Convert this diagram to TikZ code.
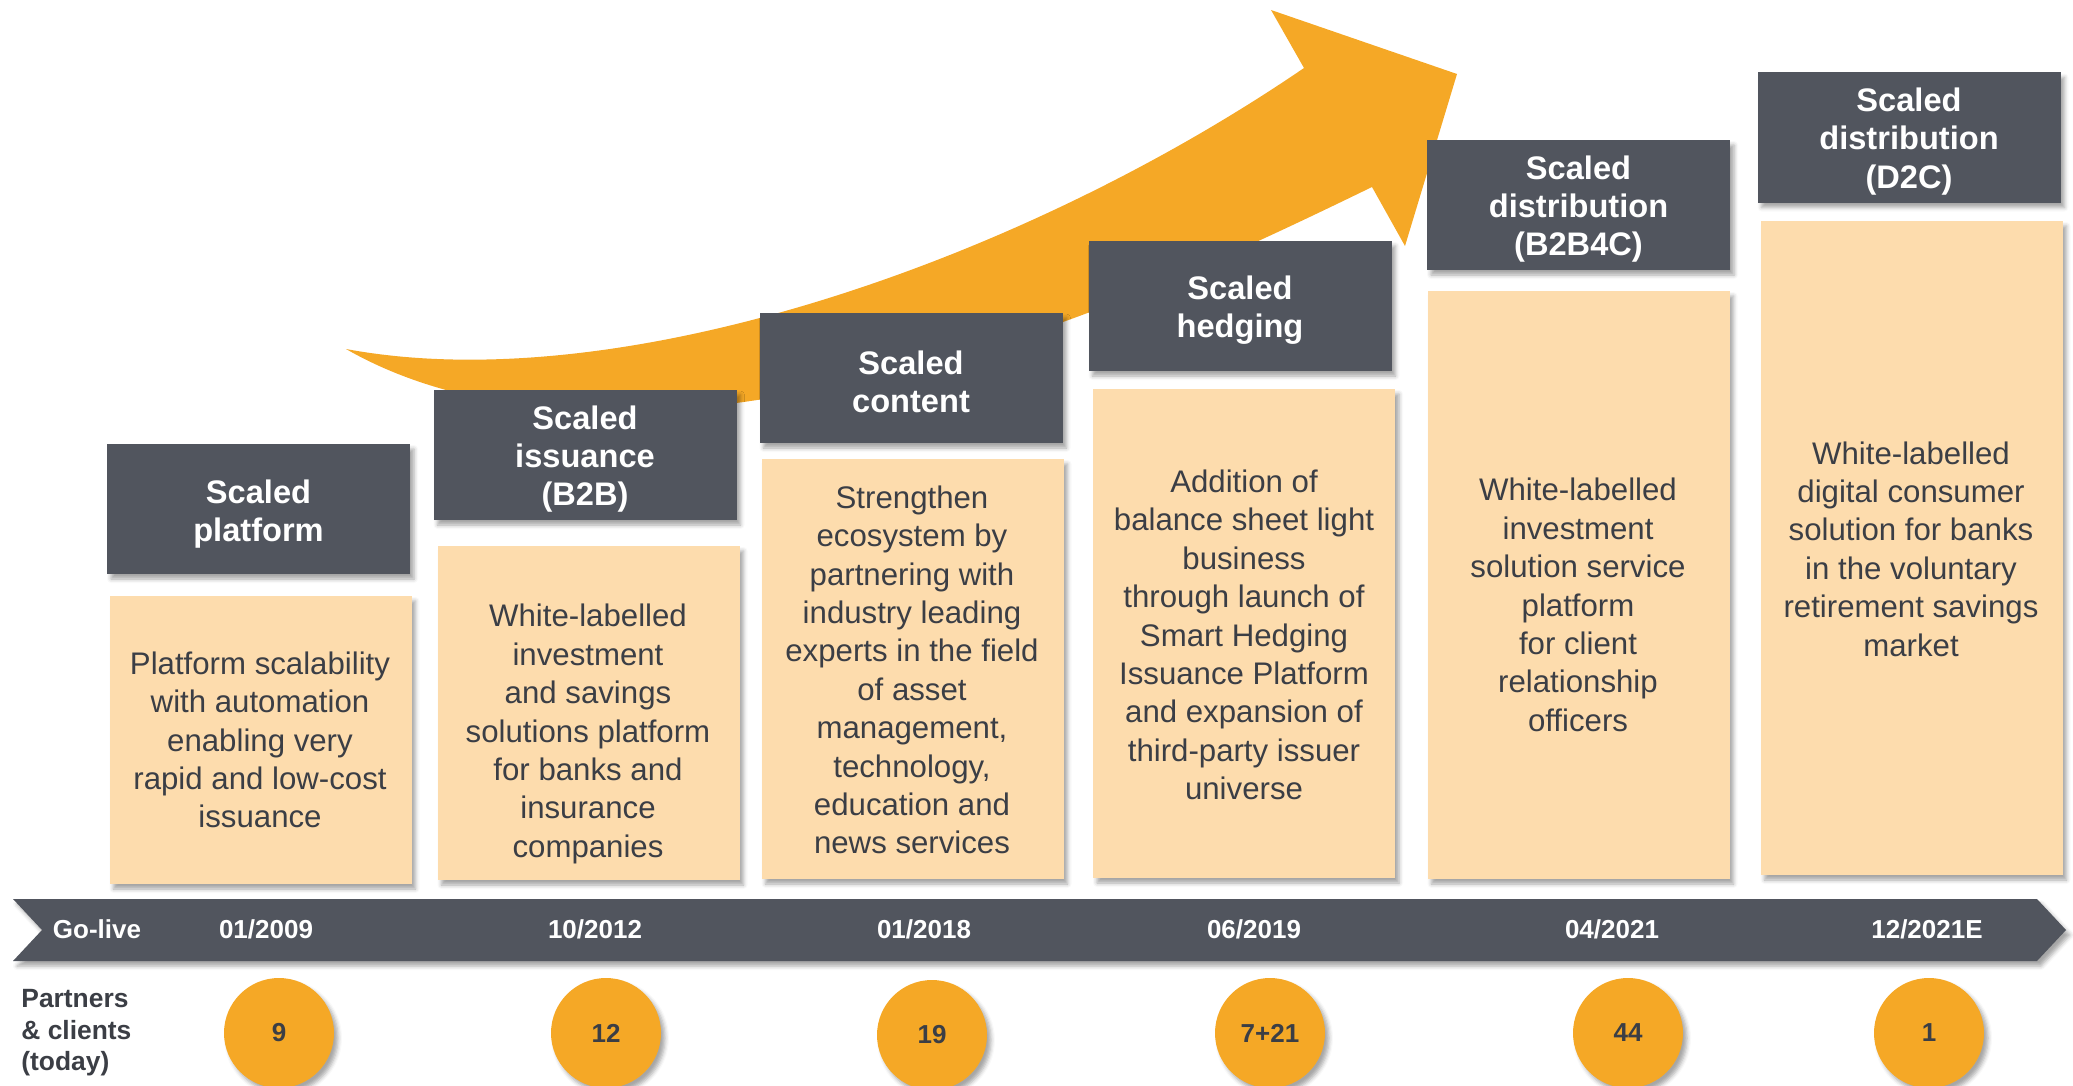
\documentclass[tikz,border=0pt]{standalone}
\usepackage{fontspec}
\setmainfont{Liberation Sans}
\usetikzlibrary{shadows,shadows.blur}
\definecolor{dkgray}{HTML}{51555E}
\definecolor{peach}{HTML}{FDDCAD}
\definecolor{orng}{HTML}{F5A826}
\definecolor{txt}{HTML}{3B3E45}
\begin{document}
\begin{tikzpicture}[x=0.5pt,y=-0.5pt,
 shd/.style={blur shadow={shadow xshift=2pt,shadow yshift=-2.5pt,shadow blur radius=2pt,shadow opacity=35}},
 header/.style={shd, fill=dkgray, minimum width=151.5pt, minimum height=65pt, inner sep=0pt},
 htext/.style={text=white, font=\fontsize{16.3}{19.2}\selectfont\bfseries, align=center, inner sep=0pt},
 body/.style={shd, fill=peach, minimum width=151pt, inner sep=0pt},
 bodytext/.style={text=txt, font=\fontsize{15.6}{19.2}\selectfont, align=center, inner sep=0pt},
 date/.style={text=white, font=\fontsize{13}{15}\selectfont\bfseries, anchor=base, inner sep=0pt},
 count/.style={circle, shd, fill=orng, minimum size=55pt, inner sep=0pt, text=txt, font=\fontsize{13}{15}\selectfont\bfseries},
]
\useasboundingbox (0,0) rectangle (2073,1086);

% big curved arrow
\fill[orng] (346,349) .. controls (620,400) and (1020,262) .. (1304,68)
  -- (1271,10) -- (1457,74) -- (1405,246) -- (1372,187)
  .. controls (1300,222) and (1180,280) .. (1063,322)
  .. controls (900,380) and (720,415) .. (600,412)
  .. controls (480,408) and (400,380) .. (346,349) -- cycle;

% headers
\node[header] (h1) at (258.5,509) {};
\node[header] (h2) at (585,455) {};
\node[header] (h3) at (911,378) {};
\node[header] (h4) at (1240,306) {};
\node[header] (h5) at (1578.5,205) {};
\node[header] (h6) at (1909,137.5) {};
\node[htext] (ht1) at ([yshift=-2.5pt]h1.center) {Scaled\\platform};
\node[htext] (ht2) at ([yshift=-2pt]h2.center) {Scaled\\issuance\\(B2B)};
\node[htext] (ht3) at ([yshift=-2pt]h3.center) {Scaled\\content};
\node[htext] (ht4) at ([yshift=-2pt]h4.center) {Scaled\\hedging};
\node[htext] (ht5) at ([yshift=-2pt]h5.center) {Scaled\\distribution\\(B2B4C)};
\node[htext] (ht6) at ([yshift=-2pt]h6.center) {Scaled\\distribution\\(D2C)};

% bodies
\node[body, minimum height=144pt] (b1) at (260.5,740) {};
\node[body, minimum height=167pt] (b2) at (588.5,713) {};
\node[body, minimum height=210pt] (b3) at (912.5,669) {};
\node[body, minimum height=244.5pt] (b4) at (1244,633.5) {};
\node[body, minimum height=294pt] (b5) at (1578.5,585) {};
\node[body, minimum height=327pt] (b6) at (1911.5,548) {};

\node[bodytext] (t1) at (260,740) {Platform scalability\\with automation\\enabling very\\rapid and low-cost\\issuance};
\node[bodytext] (t2) at (588,734) {White-labelled\\investment\\and savings\\solutions platform\\for banks and\\insurance\\companies};
\node[bodytext] (t3) at (912,670) {Strengthen\\ecosystem by\\partnering with\\industry leading\\experts in the field\\of asset\\management,\\technology,\\education and\\news services};
\node[bodytext] (t4) at (1244,635) {Addition of\\balance sheet light\\business\\through launch of\\Smart Hedging\\Issuance Platform\\and expansion of\\third-party issuer\\universe};
\node[bodytext] (t5) at (1578,605) {White-labelled\\investment\\solution service\\platform\\for client\\relationship\\officers};
\node[bodytext] (t6) at (1911,549) {White-labelled\\digital consumer\\solution for banks\\in the voluntary\\retirement savings\\market};

% timeline band
\fill[dkgray, shd] (13,899) -- (2037,899) -- (2066,930) -- (2037,961) -- (13,961) -- (42,930) -- cycle;
\node[date] (d0) at (97,938) {Go-live};
\node[date] (d1) at (266,938) {01/2009};
\node[date] (d2) at (595,938) {10/2012};
\node[date] (d3) at (924,938) {01/2018};
\node[date] (d4) at (1254,938) {06/2019};
\node[date] (d5) at (1612,938) {04/2021};
\node[date] (d6) at (1927,938) {12/2021E};

% partners and clients
\node[anchor=west, text=txt, font=\fontsize{13.2}{15.8}\selectfont\bfseries, align=left, inner sep=0pt] (pc) at (21,1033) {Partners\\\& clients\\(today)};
\node[count] (c1) at (279,1033) {9};
\node[count] (c2) at (606,1033) {12};
\node[count] (c3) at (932,1035) {19};
\node[count] (c4) at (1270,1033) {7+21};
\node[count] (c5) at (1628,1033) {44};
\node[count] (c6) at (1929,1033) {1};
\end{tikzpicture}
\end{document}
